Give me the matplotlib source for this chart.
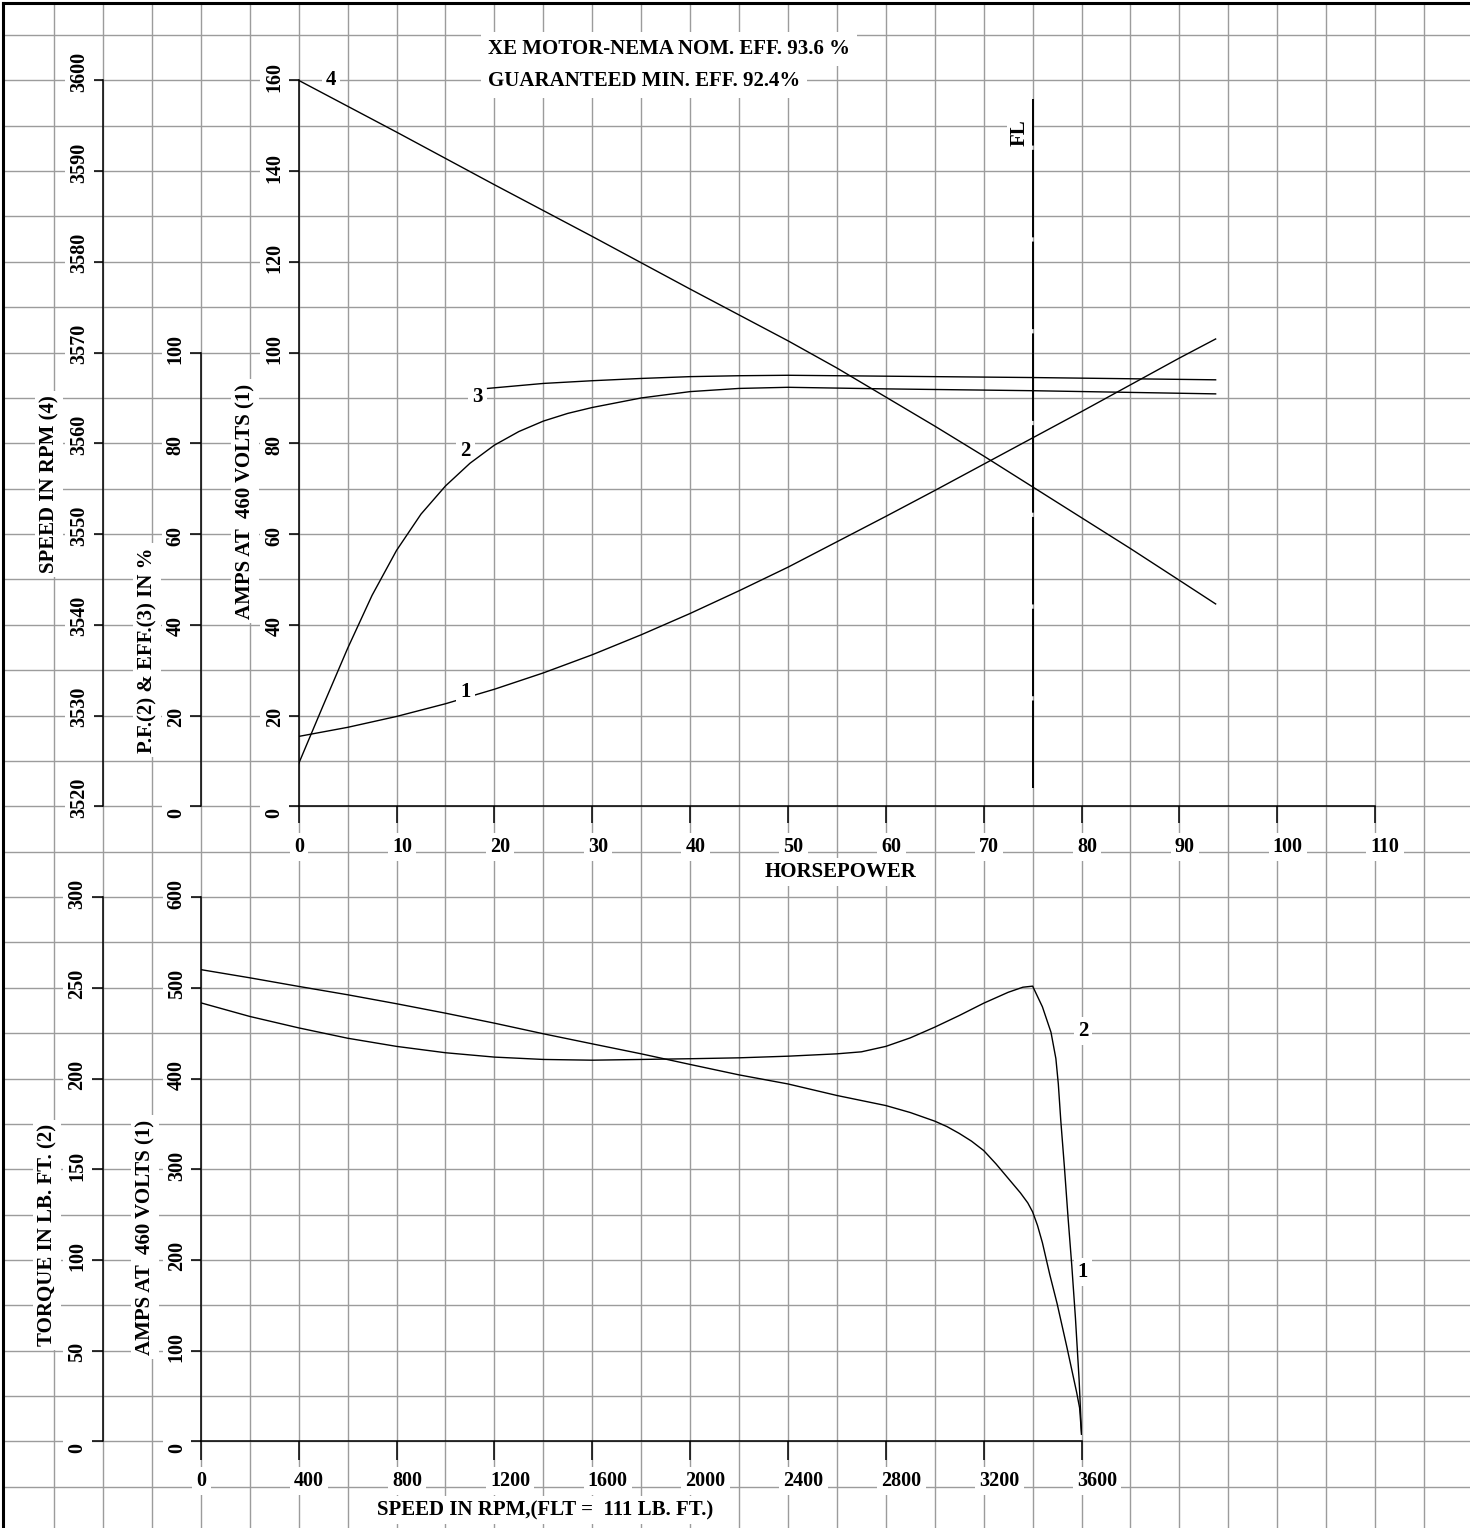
import matplotlib
matplotlib.use('Agg')
import matplotlib.pyplot as plt
import matplotlib.transforms as mtransforms

# ---------------- data ----------------
# top chart: performance vs horsepower
hp_amps = [0, 5, 10, 15, 20, 25, 30, 35, 40, 45, 50, 55, 60, 65, 70, 75, 80, 85, 90, 93.7]
amps_hp = [15.4, 17.4, 19.8, 22.6, 25.8, 29.4, 33.4, 37.8, 42.5, 47.5, 52.7, 58.3, 63.9,
           69.6, 75.4, 81.2, 87.0, 92.9, 98.8, 103.0]

hp_pf = [0, 2.5, 5, 7.5, 10, 12.5, 15, 17.5, 20, 22.5, 25, 27.5, 30, 35, 40, 45, 50, 60,
         75, 93.7]
pf_hp = [9.4, 22.2, 34.8, 46.5, 56.4, 64.4, 70.6, 75.6, 79.6, 82.6, 84.9, 86.6, 87.9,
         90.0, 91.4, 92.1, 92.35, 92.0, 91.6, 90.9]

hp_eff = [19.3, 25, 30, 35, 40, 45, 50, 60, 75, 93.7]
eff_hp = [92.1, 93.2, 93.8, 94.3, 94.7, 94.9, 95.0, 94.8, 94.5, 94.0]

hp_speed = [0, 10, 20, 30, 40, 50, 55, 60, 65, 70, 75, 80, 85, 90, 93.7]
speed_hp = [3600, 3594.3, 3588.5, 3582.8, 3577.0, 3571.3, 3568.3, 3565.1, 3561.9,
            3558.6, 3555.2, 3551.8, 3548.4, 3544.9, 3542.3]

# bottom chart: speed-torque / speed-current
rpm_amps = [0, 200, 400, 600, 800, 1000, 1200, 1400, 1600, 1800, 2000, 2200, 2400,
            2600, 2800, 2900, 3000, 3050, 3100, 3150, 3200, 3250, 3300, 3350, 3380,
            3400, 3420, 3440, 3470, 3500, 3540, 3580, 3592, 3600]
amps_rpm = [520, 511, 501.5, 492.3, 482.4, 472, 461, 449.3, 438.2, 427.2, 415.5, 404,
            394, 381.3, 370.2, 362.5, 353, 347, 339.5, 331, 320.6, 306, 290, 274, 263,
            253, 238, 219, 184, 152, 104, 54, 37, 8]

rpm_torque = [0, 200, 400, 600, 800, 1000, 1200, 1400, 1600, 1800, 2000, 2200, 2400,
              2600, 2700, 2800, 2900, 3000, 3100, 3200, 3300, 3360, 3400, 3440, 3475,
              3495, 3505, 3515, 3530, 3545, 3560, 3575, 3590, 3600]
torque_rpm = [241.7, 234.2, 227.9, 222.2, 217.7, 214.2, 211.8, 210.5, 210.1, 210.5,
              210.9, 211.4, 212.3, 213.6, 214.7, 217.7, 222.4, 228.3, 234.7, 241.5,
              247.5, 250.3, 250.9, 239.5, 225.5, 211, 197, 177, 151, 123, 97, 68, 34, 4]

hp_ticks = list(range(0, 111, 10))
amps_top_ticks = list(range(0, 161, 20))
pf_ticks = list(range(0, 101, 20))
speed_ticks = list(range(3520, 3601, 10))
rpm_ticks = list(range(0, 3601, 400))
amps_bot_ticks = list(range(0, 601, 100))
torque_ticks = list(range(0, 301, 50))

FL_HP = 75
FL_SPAN = (4, 156)

# ---------------- layout (pixels) ----------------
W, H = 1470, 1528
GX, GY = 48.93, 45.37      # graph paper cell
GX0, GY0 = 5.1, 35.0


def col(k):
    return GX0 + k * GX


def row(j):
    return GY0 + j * GY


def rect(x0, x1, ytop, ybot):
    return [x0 / W, 1 - ybot / H, (x1 - x0) / W, (ybot - ytop) / H]


plt.rcParams['font.family'] = ['Liberation Serif', 'DejaVu Serif']
plt.rcParams['font.weight'] = 'bold'
FS = 15
TFS = 14.5
WHITE = dict(facecolor='white', edgecolor='none', pad=3)
LINE = dict(color='black', lw=1.0)

fig = plt.figure(figsize=(W / 100, H / 100), dpi=100)

# graph paper background
bg = fig.add_axes(rect(3, W + 3, 3, H + 3))
bg.set_xlim(3, W + 3)
bg.set_ylim(H + 3, 3)
bg.set_xticks([col(k) for k in range(1, 30)])
bg.set_yticks([row(j) for j in range(0, 33)])
bg.tick_params(length=0, labelbottom=False, labelleft=False)
bg.grid(True, color='#9c9c9c', lw=1.0)
bg.spines['right'].set_visible(False)
bg.spines['bottom'].set_visible(False)
bg.spines['top'].set_linewidth(2.2)
bg.spines['left'].set_linewidth(2.2)


def style_main(a, xlen, ylen):
    a.patch.set_visible(False)
    a.spines['top'].set_visible(False)
    a.spines['right'].set_visible(False)
    for s in ['left', 'bottom']:
        a.spines[s].set_linewidth(1.1)
    a.tick_params(axis='x', direction='out', length=xlen, width=1.1, labelbottom=False)
    a.tick_params(axis='y', direction='out', length=ylen, width=1.1, labelleft=False)


def left_twin(a, ylim, ticks, x_px, x0_px, x1_px, ylen, bounds=None):
    t = a.twinx()
    t.set_ylim(*ylim)
    for s in ['top', 'bottom', 'right']:
        t.spines[s].set_visible(False)
    t.spines['left'].set_visible(True)
    t.spines['left'].set_linewidth(1.1)
    t.spines['left'].set_position(('axes', (x_px - x0_px) / (x1_px - x0_px)))
    if bounds:
        t.spines['left'].set_bounds(*bounds)
    t.yaxis.set_ticks_position('left')
    t.set_yticks(ticks)
    t.tick_params(axis='y', direction='out', length=ylen, width=1.1,
                  labelleft=False, labelright=False)
    return t


def ylabels(a, ticks, x_px):
    tr = mtransforms.blended_transform_factory(mtransforms.IdentityTransform(), a.transData)
    tr = mtransforms.offset_copy(tr, fig=fig, y=-11.5, units='dots')
    for v in ticks:
        a.text(x_px, v, str(v), transform=tr, rotation=90, rotation_mode='anchor',
               ha='left', va='center', fontsize=TFS, bbox=WHITE, clip_on=False, zorder=5)


def xlabels(a, ticks, y_px):
    tr = mtransforms.blended_transform_factory(a.transData, mtransforms.IdentityTransform())
    tr = mtransforms.offset_copy(tr, fig=fig, x=-4.5, units='dots')
    for v in ticks:
        a.text(v, H - y_px, str(v), transform=tr, ha='left', va='center',
               fontsize=TFS, bbox=WHITE, clip_on=False, zorder=5)


def ftext(x, y, s, **kw):
    fig.text(x / W, 1 - y / H, s, fontsize=FS, ha='center', va='center',
             bbox=WHITE, **kw)


# ---------------- top chart ----------------
tx0, tx1 = col(6), col(28)
ax = fig.add_axes(rect(tx0, tx1, row(1), row(17)))
ax.set_xlim(0, 110)
ax.set_ylim(0, 160)
ax.set_xticks(hp_ticks)
ax.set_yticks(amps_top_ticks)
style_main(ax, 12.5, 10)

ax_pf = left_twin(ax, (0, 160), pf_ticks, col(4), tx0, tx1, 10, bounds=(0, 100))
ax_spd = left_twin(ax, (3520, 3600), speed_ticks, col(2), tx0, tx1, 10)

ax.plot(hp_amps, amps_hp, **LINE)
ax_pf.plot(hp_pf, pf_hp, **LINE)
ax_pf.plot(hp_eff, eff_hp, **LINE)
ax_spd.plot(hp_speed, speed_hp, **LINE)

ax.plot([FL_HP, FL_HP], FL_SPAN, color='black', lw=1.4, dashes=(45, 2.2))
ax.text(FL_HP - 1.35, 148.5, 'FL', rotation=90, ha='center', va='center',
        fontsize=FS, bbox=dict(facecolor='white', edgecolor='none', pad=1.5), zorder=6)

for lab, x, y in [('4', 3.3, 160), ('1', 17.07, 25.3), ('2', 17.07, 78.2), ('3', 18.25, 90.3)]:
    ax.text(x, y, lab, ha='center', va='center', fontsize=FS, bbox=WHITE, zorder=6,
            clip_on=False)

ylabels(ax_spd, speed_ticks, col(2) - 23.5)
ylabels(ax_pf, pf_ticks, col(4) - 25)
ylabels(ax, amps_top_ticks, col(6) - 24)
xlabels(ax, hp_ticks, 847)

ftext(49, 484, 'SPEED IN RPM (4)', rotation=90)
ftext(147, 650, 'P.F.(2) & EFF.(3) IN %', rotation=90)
ftext(245, 501, 'AMPS AT  460 VOLTS (1)', rotation=90)
ftext(841, 872, 'HORSEPOWER')
fig.text(488 / W, 1 - 49 / H, 'XE MOTOR-NEMA NOM. EFF. 93.6 %', fontsize=FS,
         ha='left', va='center', bbox=dict(facecolor='white', edgecolor='none', pad=5))
fig.text(488 / W, 1 - 81 / H, 'GUARANTEED MIN. EFF. 92.4%', fontsize=FS,
         ha='left', va='center', bbox=dict(facecolor='white', edgecolor='none', pad=5))

# ---------------- bottom chart ----------------
bx0, bx1 = col(4), col(22)
axb = fig.add_axes(rect(bx0, bx1, row(19), row(31)))
axb.set_xlim(0, 3600)
axb.set_ylim(0, 600)
axb.set_xticks(rpm_ticks)
axb.set_yticks(amps_bot_ticks)
style_main(axb, 13.4, 13.7)

axt = left_twin(axb, (0, 300), torque_ticks, col(2), bx0, bx1, 13.7)

axb.plot(rpm_amps, amps_rpm, **LINE)
axt.plot(rpm_torque, torque_rpm, **LINE)

axt.text(3606, 226, '2', ha='center', va='center', fontsize=FS, bbox=WHITE,
         zorder=6, clip_on=False)
axb.text(3606, 187, '1', ha='center', va='center', fontsize=FS, bbox=WHITE,
         zorder=6, clip_on=False)

ylabels(axt, torque_ticks, col(2) - 25.5)
ylabels(axb, amps_bot_ticks, col(4) - 24)
xlabels(axb, rpm_ticks, 1481)

ftext(47, 1235, 'TORQUE IN LB. FT. (2)', rotation=90)
ftext(145, 1237, 'AMPS AT  460 VOLTS (1)', rotation=90)
ftext(545, 1510, 'SPEED IN RPM,(FLT =  111 LB. FT.)')

fig.savefig('out.png', dpi=100, facecolor='white')
